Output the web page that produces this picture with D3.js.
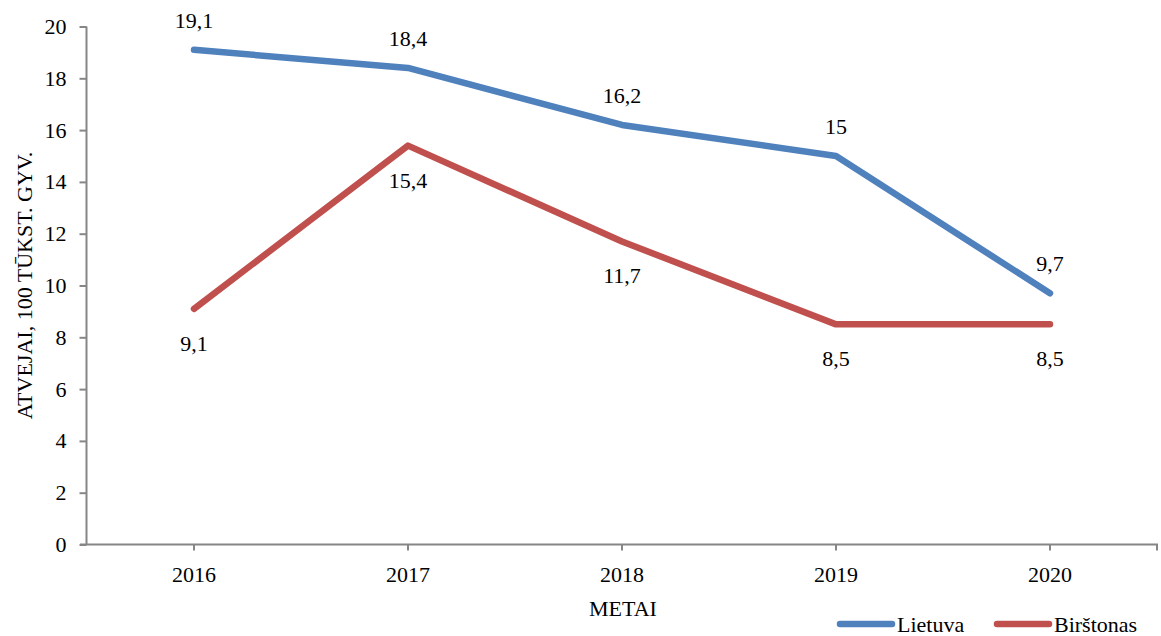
<!DOCTYPE html>
<html>
<head>
<meta charset="utf-8">
<script src="https://cdn.jsdelivr.net/npm/d3@7"></script>
<style>
  html, body { margin: 0; padding: 0; background: #ffffff; }
  svg { display: block; }
  svg text { font-family: "Liberation Serif", "Times New Roman", Times, serif !important; fill: #000; }
</style>
</head>
<body>
<svg id="chart" width="1161" height="636"></svg>
<script>
// Incidence per 100 thousand population by year
const years = ["2016", "2017", "2018", "2019", "2020"];
const lietuva = [19.1, 18.4, 16.2, 15, 9.7];
const birstonas = [9.1, 15.4, 11.7, 8.5, 8.5];
const yTicks = [0, 2, 4, 6, 8, 10, 12, 14, 16, 18, 20];

const seriesList = [
  { name: "Lietuva", values: lietuva, color: "#4F81BD", labelPos: "above" },
  { name: "Birštonas", values: birstonas, color: "#C0504D", labelPos: "below" }
];

const serif = "Liberation Serif";
const svg = d3.select("#chart").attr("font-family", serif);
const margin = { left: 87, right: 1157, top: 26.5, bottom: 544.5 };
const fontSize = 22;

const x = d3.scaleBand().domain(years).range([margin.left, margin.right]).paddingInner(0).paddingOuter(0);
const y = d3.scaleLinear().domain([0, 20]).range([margin.bottom, margin.top]);
const cx = d => x(d) + x.bandwidth() / 2;

const axisColor = "#868686";

// Y axis
const yAxis = svg.append("g")
  .attr("transform", `translate(${margin.left - 0.5},0)`)
  .call(d3.axisLeft(y).tickValues(yTicks).tickSize(7).tickPadding(13).tickFormat(d3.format("d")))
  .attr("font-family", serif).attr("font-size", fontSize);
yAxis.select(".domain").attr("stroke", axisColor).attr("stroke-width", 2)
  .attr("d", `M0,${margin.top}V${margin.bottom}`);
yAxis.selectAll(".tick line").attr("stroke", axisColor).attr("stroke-width", 2);
yAxis.selectAll(".tick text").attr("fill", "#000");

// X axis baseline and ticks at category centres
const xg = svg.append("g").attr("transform", `translate(0,${margin.bottom})`);
xg.append("line").attr("x1", margin.left - 7).attr("x2", margin.right + 1)
  .attr("stroke", axisColor).attr("stroke-width", 2);
const xTickPos = years.map(cx).concat([margin.right]);
xg.selectAll("line.tk").data(xTickPos).enter().append("line").attr("class", "tk")
  .attr("x1", d => d).attr("x2", d => d).attr("y1", 0).attr("y2", 6)
  .attr("stroke", axisColor).attr("stroke-width", 2);
xg.selectAll("text.yr").data(years).enter().append("text").attr("class", "yr")
  .attr("x", d => cx(d)).attr("y", 37.5).attr("text-anchor", "middle")
  .attr("font-size", fontSize).text(d => d);

// Axis titles
svg.append("text").attr("x", (margin.left + margin.right) / 2 + 1).attr("y", 616)
  .attr("text-anchor", "middle").attr("font-size", fontSize).text("METAI");
svg.append("text")
  .attr("transform", `translate(32,${(margin.top + margin.bottom) / 2}) rotate(-90)`)
  .attr("text-anchor", "middle").attr("font-size", fontSize)
  .text("ATVEJAI, 100 TŪKST. GYV.");

// Lines
const line = d3.line().x((d, i) => cx(years[i])).y(d => y(d));
seriesList.forEach(s => {
  svg.append("path").datum(s.values)
    .attr("d", line).attr("fill", "none")
    .attr("stroke", s.color).attr("stroke-width", 6.5)
    .attr("stroke-linecap", "round").attr("stroke-linejoin", "round");
});

// Data labels
const fmt = v => String(v).replace(".", ",");
seriesList.forEach(s => {
  svg.append("g").selectAll("text").data(s.values).enter().append("text")
    .attr("x", (d, i) => cx(years[i]))
    .attr("y", d => s.labelPos === "above" ? y(d) - 22 : y(d) + 42)
    .attr("text-anchor", "middle").attr("font-size", fontSize)
    .text(fmt);
});

// Legend
const legend = [
  { name: "Lietuva", color: "#4F81BD", x: 840 },
  { name: "Birštonas", color: "#C0504D", x: 997 }
];
const lg = svg.append("g");
legend.forEach(l => {
  lg.append("line").attr("x1", l.x).attr("x2", l.x + 52).attr("y1", 624).attr("y2", 624)
    .attr("stroke", l.color).attr("stroke-width", 6.5).attr("stroke-linecap", "round");
  lg.append("text").attr("x", l.x + 57).attr("y", 632).attr("font-size", fontSize).text(l.name);
});
</script>
</body>
</html>
